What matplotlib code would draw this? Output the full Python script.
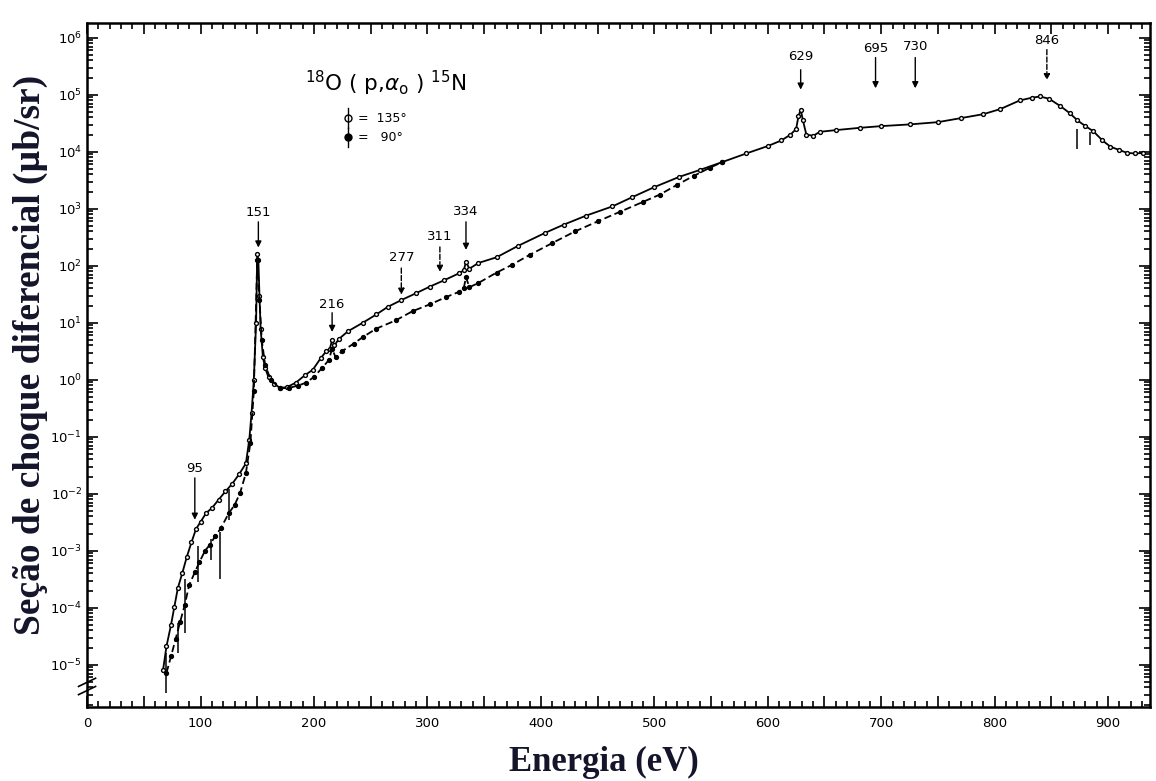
import matplotlib.pyplot as plt
from matplotlib.ticker import FixedLocator, FuncFormatter, NullFormatter

# 18O(p,alpha0)15N excitation function, two detector angles
E_135 = [67, 70, 74, 77, 80, 84, 88, 92, 96, 100, 105, 110, 116, 122, 128, 134,
         140, 143, 145, 147, 149, 150, 151, 152, 153, 155, 157, 160, 165, 170,
         176, 184, 192, 199, 206, 211, 214, 216, 218, 222, 230, 243, 255, 265,
         277, 290, 302, 315, 328, 332, 334, 337, 345, 361, 380, 404, 420, 440,
         463, 480, 500, 522, 540, 560, 581, 600, 612, 620, 625, 627, 629, 631,
         634, 640, 646, 660, 681, 700, 725, 750, 770, 790, 805, 822, 833, 840,
         848, 858, 866, 873, 880, 887, 895, 902, 910, 917, 924, 931]
sig_135 = [8.1e-6, 2.1e-5, 5.0e-5, 1.05e-4, 2.2e-4, 4.1e-4, 7.9e-4, 1.4e-3,
           2.4e-3, 3.2e-3, 4.6e-3, 5.6e-3, 7.9e-3, 1.1e-2, 1.5e-2, 2.2e-2,
           3.4e-2, 8.9e-2, 0.26, 1.0, 10, 160, 125, 29, 7.9, 2.5, 1.6, 1.1,
           0.85, 0.72, 0.74, 0.89, 1.2, 1.5, 2.4, 3.2, 3.5, 5.0, 4.0, 5.2, 7.1,
           10, 14, 19, 25, 33, 43, 56, 74, 83, 117, 89, 112, 141, 224, 380, 525,
           760, 1100, 1580, 2400, 3630, 4790, 6610, 9330, 12600, 15800, 20000,
           25100, 41700, 55000, 35500, 20000, 19100, 22400, 24000, 26300, 28200,
           30200, 33100, 38900, 45700, 56200, 79400, 89100, 93300, 85100, 63100,
           47900, 35500, 28200, 22900, 15800, 12300, 10700, 9550, 9330, 9550]

E_90 = [70, 74, 78, 82, 86, 90, 95, 99, 104, 108, 113, 118, 125, 130, 135, 140,
        144, 147, 150, 152, 154, 157, 162, 170, 178, 186, 193, 200, 207, 213,
        216, 219, 225, 235, 243, 255, 272, 287, 302, 316, 328, 332, 334, 337,
        345, 361, 375, 390, 410, 430, 450, 470, 490, 505, 520, 535, 549, 560]
sig_90 = [7.2e-6, 1.4e-5, 2.8e-5, 5.6e-5, 1.1e-4, 2.5e-4, 4.2e-4, 6.3e-4,
          1.0e-3, 1.26e-3, 1.8e-3, 2.5e-3, 4.6e-3, 6.3e-3, 1.05e-2, 2.3e-2,
          7.9e-2, 0.63, 126, 25, 5.0, 1.8, 1.0, 0.71, 0.72, 0.79, 0.89, 1.12,
          1.6, 2.2, 3.5, 2.5, 3.2, 4.3, 5.6, 7.9, 11, 16, 21, 28, 35, 40, 63,
          42, 50, 76, 105, 155, 250, 400, 600, 890, 1320, 1780, 2630, 3800,
          5250, 6610]

# error bars large enough to be seen
err_E = [70, 80, 86, 98, 109, 117, 125, 873, 884]
err_lo = [3.2e-6, 1.6e-5, 3.6e-5, 2.8e-4, 6.9e-4, 3.2e-4, 3.5e-3, 1.1e4, 1.3e4]
err_hi = [1.6e-5, 5.5e-5, 3.2e-4, 1.2e-3, 1.6e-3, 2.1e-3, 1.2e-2, 2.5e4, 2.2e4]

# resonance energies marked with arrows
res_E = [95, 151, 216, 277, 311, 334, 629, 695, 730, 846]

fig = plt.figure(figsize=(11.56, 7.81), dpi=100)
ax = fig.add_axes([0.0753, 0.0948, 0.9196, 0.8758])

ax.plot(E_135, sig_135, '-', color='k', lw=1.3, marker='o', ms=2.8,
        mfc='white', mec='k', mew=1.0)
ax.plot(E_90, sig_90, '--', color='k', lw=1.3, marker='o', ms=2.8,
        mfc='k', mec='k', dashes=(4, 2))
ax.vlines(err_E, err_lo, err_hi, color='k', lw=1.1)

# arrow geometry: (label y, arrow tail, arrow head, dashed?)
arrow_pos = [(0.028, 0.019, 0.0035, False),
             (850, 590, 209, False),
             (21, 15, 6.9, False),
             (138, 91, 31, True),
             (324, 214, 78, True),
             (890, 590, 190, False),
             (4.7e5, 2.75e5, 1.23e5, False),
             (6.6e5, 4.5e5, 1.3e5, False),
             (6.9e5, 4.5e5, 1.3e5, False),
             (9.1e5, 6.2e5, 1.8e5, True)]
for e, (ly, tail, head, dashed) in zip(res_E, arrow_pos):
    ax.annotate('', xy=(e, head), xytext=(e, tail),
                arrowprops=dict(arrowstyle='-|>', color='k', lw=1.0,
                                linestyle='--' if dashed else '-',
                                mutation_scale=9, shrinkA=0, shrinkB=0))
    ax.text(e, ly, str(e), ha='center', va='center', fontsize=9.5)

ax.set_yscale('log')
ax.set_xlim(0, 937)
ax.set_ylim(10 ** -5.74, 10 ** 6.26)

ax.xaxis.set_major_locator(FixedLocator(range(0, 901, 50)))
ax.xaxis.set_minor_locator(FixedLocator(range(0, 931, 10)))
ax.xaxis.set_major_formatter(FuncFormatter(
    lambda v, p: '%d' % v if int(round(v)) % 100 == 0 else ''))
ax.yaxis.set_major_locator(FixedLocator([10.0 ** k for k in range(-5, 7)]))
ax.yaxis.set_major_formatter(FuncFormatter(
    lambda v, p: r'$10^{%d}$' % round(__import__('math').log10(v))))
minor_y = [m * 10.0 ** k for k in range(-6, 6) for m in range(2, 10)]
ax.yaxis.set_minor_locator(FixedLocator(
    [v for v in minor_y if 10 ** -5.74 < v < 10 ** 6.26]))
ax.yaxis.set_minor_formatter(NullFormatter())

ax.tick_params(which='both', direction='in', top=True, right=True,
               labelsize=9.5, width=1.2)
ax.tick_params(which='major', length=8)
ax.tick_params(which='minor', length=4)
ax.tick_params(axis='x', pad=7)
for s in ax.spines.values():
    s.set_linewidth(1.8)

# axis break on the y spine
for dy in (0.0, 0.012):
    ax.plot([-0.008, 0.008], [0.018 + dy, 0.03 + dy], color='k', lw=1.2,
            transform=ax.transAxes, clip_on=False)

ax.text(0.205, 0.912, r'$^{18}$O ( p,$\alpha_{\rm o}$ ) $^{15}$N',
        transform=ax.transAxes, fontsize=15.5, va='center')
ax.plot([0.2455], [0.861], 'o', ms=5, mfc='white', mec='k', mew=1.0,
        transform=ax.transAxes)
ax.plot([0.2455, 0.2455], [0.847, 0.875], 'k-', lw=1.0, transform=ax.transAxes)
ax.plot([0.2455], [0.833], 'o', ms=5, mfc='k', mec='k',
        transform=ax.transAxes)
ax.plot([0.2455, 0.2455], [0.819, 0.847], 'k-', lw=1.0, transform=ax.transAxes)
ax.text(0.255, 0.861, '=  135°', transform=ax.transAxes, fontsize=9,
        va='center')
ax.text(0.255, 0.833, '=   90°', transform=ax.transAxes, fontsize=9,
        va='center')

fig.text(604 / 1156, 1 - 762 / 781, 'Energia (eV)', ha='center', va='center',
         fontsize=25, fontweight='bold', family='Liberation Serif',
         color='#14142a')
fig.text(30 / 1156, 1 - 355 / 781, 'Seção de choque diferencial (µb/sr)',
         ha='center', va='center', rotation=90, fontsize=27,
         fontweight='bold', family='Liberation Serif', color='#14142a')

fig.savefig('out.png', dpi=100)
